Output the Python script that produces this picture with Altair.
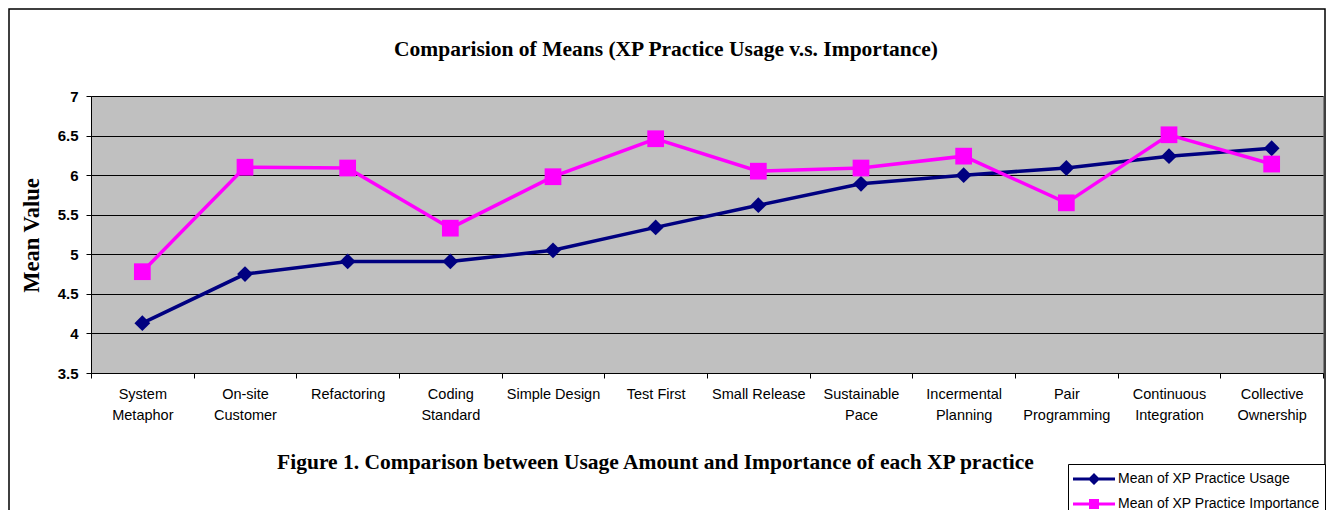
import altair as alt
import pandas as pd

categories = ["System\nMetaphor", "On-site\nCustomer", "Refactoring", "Coding\nStandard",
              "Simple Design", "Test First", "Small Release", "Sustainable\nPace",
              "Incermental\nPlanning", "Pair\nProgramming", "Continuous\nIntegration",
              "Collective\nOwnership"]
usage = [4.13, 4.75, 4.91, 4.91, 5.05, 5.34, 5.62, 5.89, 6.00, 6.09, 6.24, 6.34]
importance = [4.78, 6.10, 6.09, 5.33, 5.98, 6.46, 6.05, 6.09, 6.24, 5.65, 6.51, 6.14]
series_names = ["Mean of XP Practice Usage", "Mean of XP Practice Importance"]
series_colors = ["#000080", "#FF00FF"]
y_ticks = [3.5, 4.0, 4.5, 5.0, 5.5, 6.0, 6.5, 7.0]
chart_title = "Comparision of Means (XP Practice Usage v.s. Importance)"
caption = "Figure 1.  Comparison between Usage Amount and Importance of each XP practice"

rows = []
for c, u, im in zip(categories, usage, importance):
    rows.append({"practice": c, "series": series_names[0], "value": u})
    rows.append({"practice": c, "series": series_names[1], "value": im})
df = pd.DataFrame(rows)

W, H = 1232, 277
PAD = {"left": 83, "top": 88, "right": 4, "bottom": 137}

usage_path = "M-1,-0.16L3.2,-0.16L3.2,0.16L-1,0.16Z M1.1,-0.6L1.7,0L1.1,0.6L0.5,0Z"
imp_path = "M-1,-0.16L3.2,-0.16L3.2,0.16L-1,0.16Z M0.6,-0.5L1.6,-0.5L1.6,0.5L0.6,0.5Z"

x_enc = alt.X(
    "practice:N", sort=categories,
    scale=alt.Scale(paddingInner=0, paddingOuter=0),
    axis=alt.Axis(
        labelAngle=0, labelExpr="split(datum.label, '\\n')", labelFont="Liberation Sans",
        labelFontSize=14.5, labelColor="#000000", labelLineHeight=21, labelBaseline="top",
        labelPadding=9, tickBand="extent", tickSize=5, tickColor="#000000",
        domainColor="#000000", grid=False,
        title=caption,
        titleFont="Liberation Serif", titleFontSize=21.5, titleFontWeight="bold",
        titleColor="#000000", titleX=564, titleY=89, titleBaseline="middle",
        titleAlign="center"),
)
y_enc = alt.Y(
    "value:Q", scale=alt.Scale(domain=[3.5, 7], nice=False, zero=False),
    axis=alt.Axis(
        values=y_ticks, labelExpr="toString(datum.value)", labelOverlap=False,
        labelFont="Liberation Sans", labelFontSize=15,
        labelFontWeight="bold", labelColor="#000000", labelPadding=8, tickSize=5,
        tickColor="#000000", domainColor="#000000", gridColor="#000000", gridWidth=1,
        gridOpacity=1,
        title="Mean Value", titleFont="Liberation Serif", titleFontSize=22.5,
        titleFontWeight="bold", titleColor="#000000", titleX=-60, titleY=139,
        titleAngle=-90, titleAlign="center", titleBaseline="middle"),
)

color_scale = alt.Scale(domain=series_names, range=series_colors)
shape_scale = alt.Scale(domain=series_names, range=[usage_path, imp_path])

legend = alt.Legend(
    title=None, orient="none", legendX=977, legendY=368,
    fillColor="#FFFFFF", strokeColor="#000000", padding=5, rowPadding=8,
    symbolSize=400, symbolOpacity=1, symbolStrokeWidth=0, labelOffset=25,
    labelFont="Liberation Sans", labelFontSize=14, labelColor="#000000", labelLimit=400,
)

base = alt.Chart(df).encode(x=x_enc, y=y_enc)
usage_base = base.transform_filter(alt.datum.series == series_names[0])
imp_base = base.transform_filter(alt.datum.series == series_names[1])

usage_line = usage_base.mark_line(strokeWidth=3.5, color=series_colors[0])
imp_line = imp_base.mark_line(strokeWidth=3.5, color=series_colors[1])
usage_pts = usage_base.mark_point(filled=True, opacity=1, strokeWidth=0, shape="diamond",
                                  size=250, color=series_colors[0])
imp_pts = imp_base.mark_point(filled=True, opacity=1, strokeWidth=0, shape="square",
                              size=280, color=series_colors[1])

legend_layer = base.mark_point(filled=True, size=0).encode(
    color=alt.Color("series:N", scale=color_scale, legend=legend),
    shape=alt.Shape("series:N", scale=shape_scale, legend=legend),
)

one = pd.DataFrame({"k": [0]})
frame = alt.Chart(one).mark_rect(
    filled=False, stroke="#000000", strokeWidth=1.5
).encode(
    x=alt.value(-82), x2=alt.value(W + 2), y=alt.value(-87), y2=alt.value(H + 400)
)
title_mark = alt.Chart(one).mark_text(
    font="Liberation Serif", fontSize=21.5, fontWeight="bold", color="#000000",
    align="center", baseline="middle"
).encode(x=alt.value(575), y=alt.value(-46), text=alt.value(chart_title))

chart = alt.layer(frame, title_mark, usage_line, imp_line, usage_pts, imp_pts,
                  legend_layer).properties(
    width=W, height=H,
    autosize=alt.AutoSizeParams(type="none"),
    padding=PAD,
    background="#FFFFFF",
).configure_view(fill="#C0C0C0", stroke="#808080", strokeWidth=1)

chart.save("out.html", embed_options={"renderer": "svg", "actions": False})
